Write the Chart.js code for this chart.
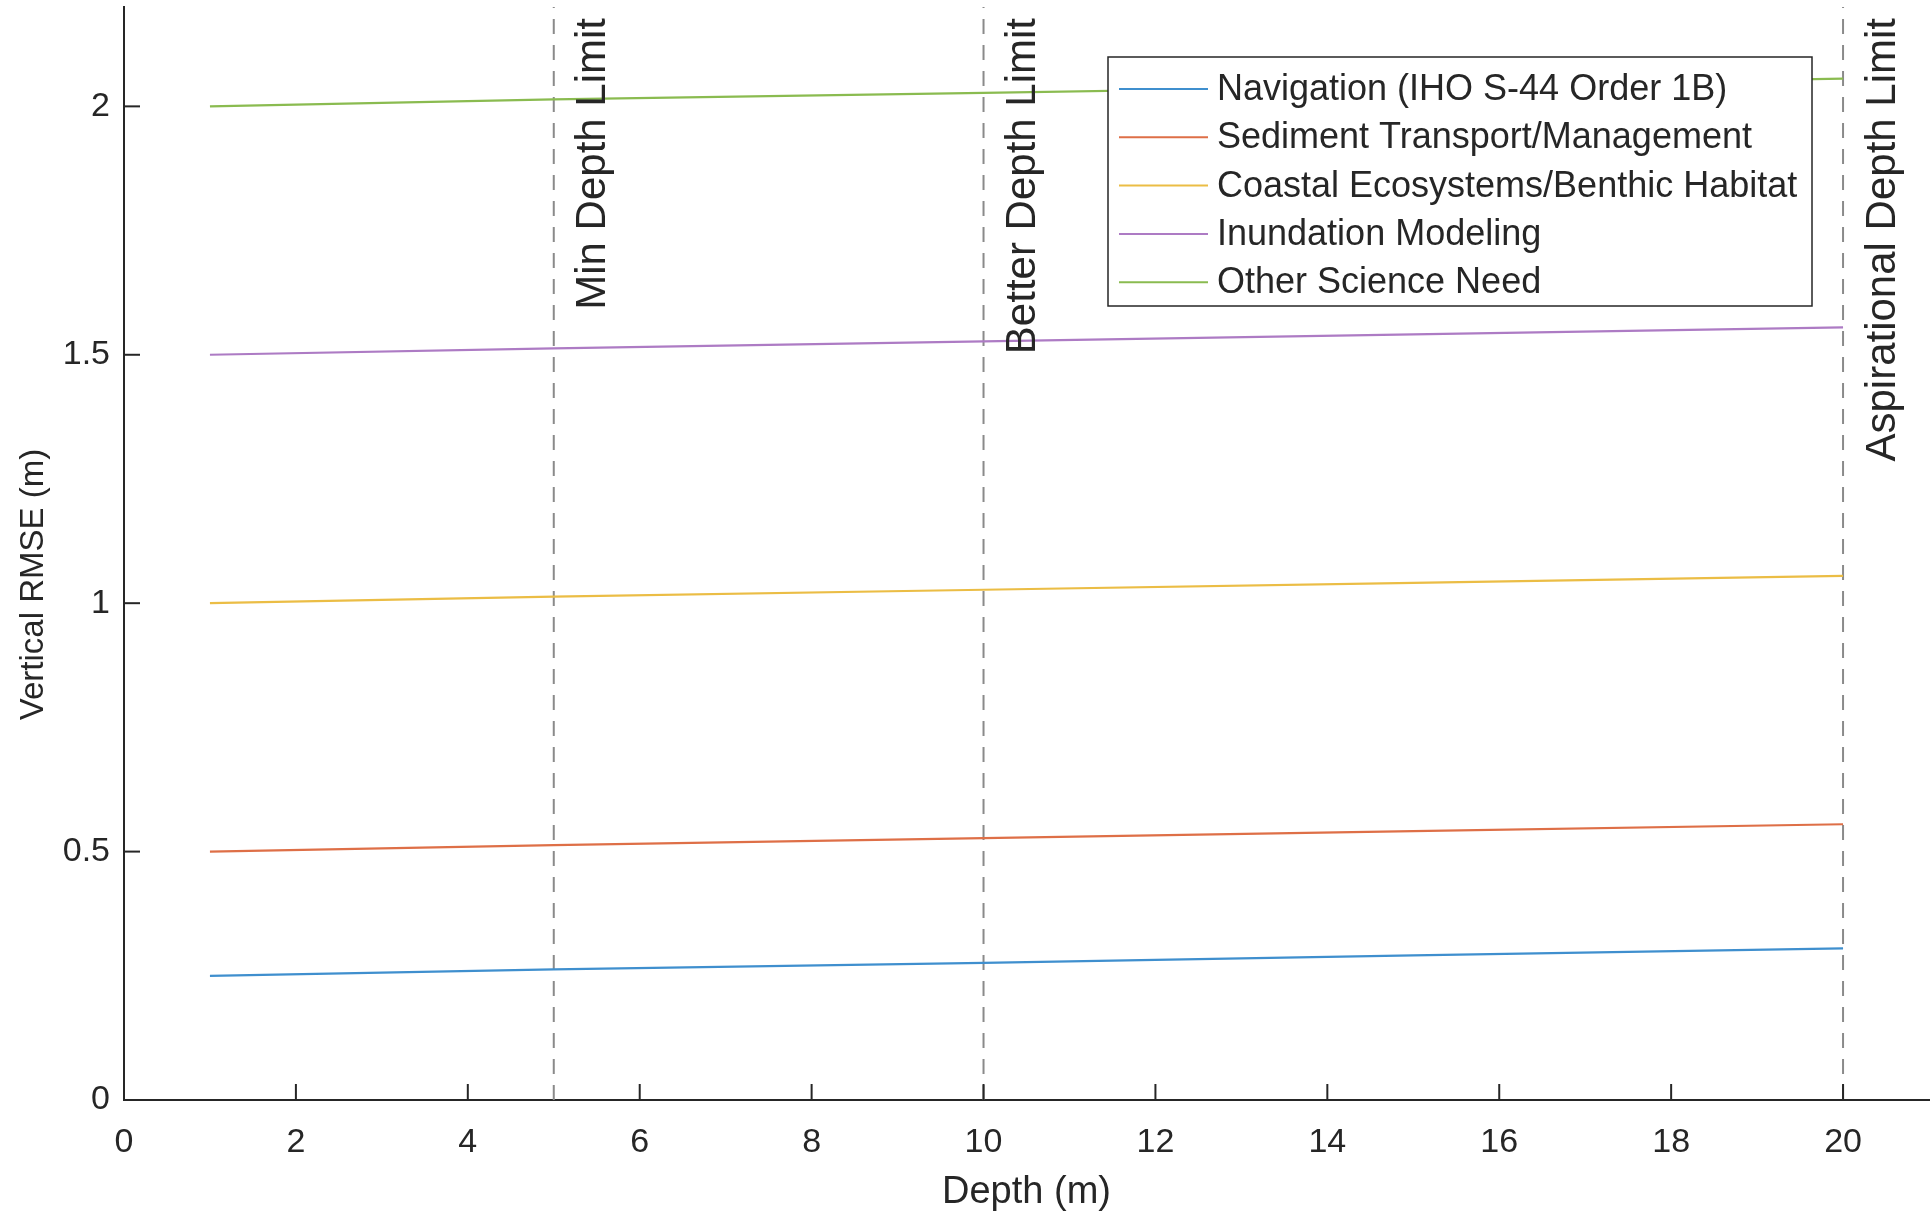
<!DOCTYPE html>
<html>
<head>
<meta charset="utf-8">
<title>Vertical RMSE vs Depth</title>
<script src="https://cdn.jsdelivr.net/npm/chart.js@4.4.1/dist/chart.umd.min.js"></script>
<style>
  html, body { margin: 0; padding: 0; background: #fff; }
  #chart { display: block; }
</style>
</head>
<body>
<canvas id="chart" width="1931" height="1217"></canvas>
<script>
// data
const depths = [1, 5, 10, 15, 20];
const navigation = [0.25, 0.263, 0.276, 0.291, 0.305];
const sediment = [0.50, 0.513, 0.527, 0.541, 0.555];
const coastal = [1.00, 1.013, 1.027, 1.041, 1.055];
const inundation = [1.50, 1.513, 1.527, 1.541, 1.555];
const otherScience = [2.00, 2.014, 2.027, 2.041, 2.056];

const seriesLabels = [
	'Navigation (IHO S-44 Order 1B)',
	'Sediment Transport/Management',
	'Coastal Ecosystems/Benthic Habitat',
	'Inundation Modeling',
	'Other Science Need'
];
const seriesColors = ['#3f8fce', '#de6f47', '#ebbd45', '#ad7bc4', '#8abb50'];

const limitDepths = [5, 10, 20];
const limitLabels = ['Min Depth Limit', 'Better Depth Limit', 'Aspirational Depth Limit'];

const xTicks = [0, 2, 4, 6, 8, 10, 12, 14, 16, 18, 20];
const yTicks = [0, 0.5, 1, 1.5, 2];
const xMax = 21, yMax = 2.2;

const ink = '#262626';
const font = '"Liberation Sans", Arial, Helvetica, sans-serif';

function pairs(xs, ys){
	return xs.map((x, i) => ({x: x, y: ys[i]}));
}

function getDatasets(){
	const values = [navigation, sediment, coastal, inundation, otherScience];
	let sets = values.map((v, i) => ({
		label: seriesLabels[i],
		data: pairs(depths, v),
		borderColor: seriesColors[i],
		borderWidth: 2.2,
		pointRadius: 0,
		tension: 0
	}));
	limitDepths.forEach((d, i) => {
		sets.push({
			label: limitLabels[i],
			isLimit: true,
			data: pairs([d, d], [0, yMax]),
			borderColor: '#8a8a8a',
			borderWidth: 2,
			borderDash: [15, 11],
			pointRadius: 0
		});
	});
	return sets;
}

// MATLAB style ticks pointing into the axes
const innerTicks = {
	id: 'innerTicks',
	afterDatasetsDraw(chart){
		const {ctx, chartArea, scales} = chart;
		ctx.save();
		ctx.strokeStyle = ink;
		ctx.lineWidth = 2;
		xTicks.forEach(v => {
			const px = scales.x.getPixelForValue(v);
			ctx.beginPath();
			ctx.moveTo(px, chartArea.bottom);
			ctx.lineTo(px, chartArea.bottom - 16);
			ctx.stroke();
		});
		yTicks.forEach(v => {
			const py = scales.y.getPixelForValue(v);
			ctx.beginPath();
			ctx.moveTo(chartArea.left, py);
			ctx.lineTo(chartArea.left + 16, py);
			ctx.stroke();
		});
		ctx.restore();
	}
};

// rotated labels next to the dashed depth limits
const limitText = {
	id: 'limitText',
	afterDatasetsDraw(chart){
		const {ctx, chartArea, scales} = chart;
		ctx.save();
		ctx.fillStyle = ink;
		ctx.font = '42px ' + font;
		ctx.textAlign = 'right';
		ctx.textBaseline = 'top';
		limitDepths.forEach((d, i) => {
			const px = scales.x.getPixelForValue(d);
			ctx.save();
			ctx.translate(px + 19, chartArea.top + 11);
			ctx.rotate(-Math.PI / 2);
			ctx.fillText(limitLabels[i], 0, 0);
			ctx.restore();
		});
		ctx.restore();
	}
};

// y title, a little below the middle as in the figure
const yTitle = {
	id: 'yTitle',
	afterDraw(chart){
		const {ctx, chartArea} = chart;
		ctx.save();
		ctx.fillStyle = ink;
		ctx.font = '33px ' + font;
		ctx.textAlign = 'center';
		ctx.textBaseline = 'middle';
		ctx.translate(34, (chartArea.top + chartArea.bottom) / 2 + 31);
		ctx.rotate(-Math.PI / 2);
		ctx.fillText('Vertical RMSE (m)', 0, 0);
		ctx.restore();
	}
};

// boxed legend inside the axes, top right
const boxLegend = {
	id: 'boxLegend',
	afterDraw(chart){
		const {ctx} = chart;
		const box = {left: 1108, top: 57, right: 1812, bottom: 306};
		ctx.save();
		ctx.fillStyle = '#fff';
		ctx.fillRect(box.left, box.top, box.right - box.left, box.bottom - box.top);
		ctx.strokeStyle = ink;
		ctx.lineWidth = 1.5;
		ctx.strokeRect(box.left, box.top, box.right - box.left, box.bottom - box.top);
		ctx.font = '36px ' + font;
		ctx.textBaseline = 'middle';
		ctx.textAlign = 'left';
		chart.data.datasets.filter(ds => !ds.isLimit).forEach((ds, i) => {
			const y = box.top + 32 + i * 48.3;
			ctx.strokeStyle = ds.borderColor;
			ctx.lineWidth = 2;
			ctx.beginPath();
			ctx.moveTo(box.left + 11, y);
			ctx.lineTo(box.left + 100, y);
			ctx.stroke();
			ctx.fillStyle = ink;
			ctx.fillText(ds.label, box.left + 109, y + 1);
		});
		ctx.restore();
	}
};

function getOptions(){
	return {
		responsive: false,
		animation: false,
		devicePixelRatio: 1,
		layout: { padding: { top: 7, right: 2, left: 0, bottom: 0 } },
		plugins: {
			legend: { display: false },
			tooltip: { enabled: false }
		},
		scales: {
			x: {
				type: 'linear',
				min: 0,
				max: xMax,
				afterBuildTicks: scale => { scale.ticks = xTicks.map(v => ({value: v})); },
				afterFit: scale => {
					scale.height = 117;
					scale.paddingLeft = 0;
					scale.paddingRight = 0;
				},
				grid: { display: false },
				border: { display: true, color: ink, width: 2 },
				ticks: {
					color: ink,
					padding: 14,
					maxRotation: 0,
					font: { family: font, size: 34 }
				},
				title: {
					display: true,
					text: 'Depth (m)',
					color: ink,
					padding: { top: 0, bottom: 2 },
					font: { family: font, size: 38 }
				}
			},
			y: {
				type: 'linear',
				min: 0,
				max: yMax,
				afterBuildTicks: scale => { scale.ticks = yTicks.map(v => ({value: v})); },
				afterFit: scale => {
					scale.width = 124;
					scale.paddingTop = 0;
					scale.paddingBottom = 0;
				},
				grid: { display: false },
				border: { display: true, color: ink, width: 2 },
				ticks: {
					color: ink,
					padding: 6,
					font: { family: font, size: 34 },
					callback: v => String(v)
				}
			}
		}
	};
}

window.onload = ()=>{
	const ctx = document.getElementById('chart');
	new Chart(ctx, {
		type: 'line',
		data: { datasets: getDatasets() },
		options: getOptions(),
		plugins: [innerTicks, limitText, yTitle, boxLegend]
	});
}
</script>
</body>
</html>
